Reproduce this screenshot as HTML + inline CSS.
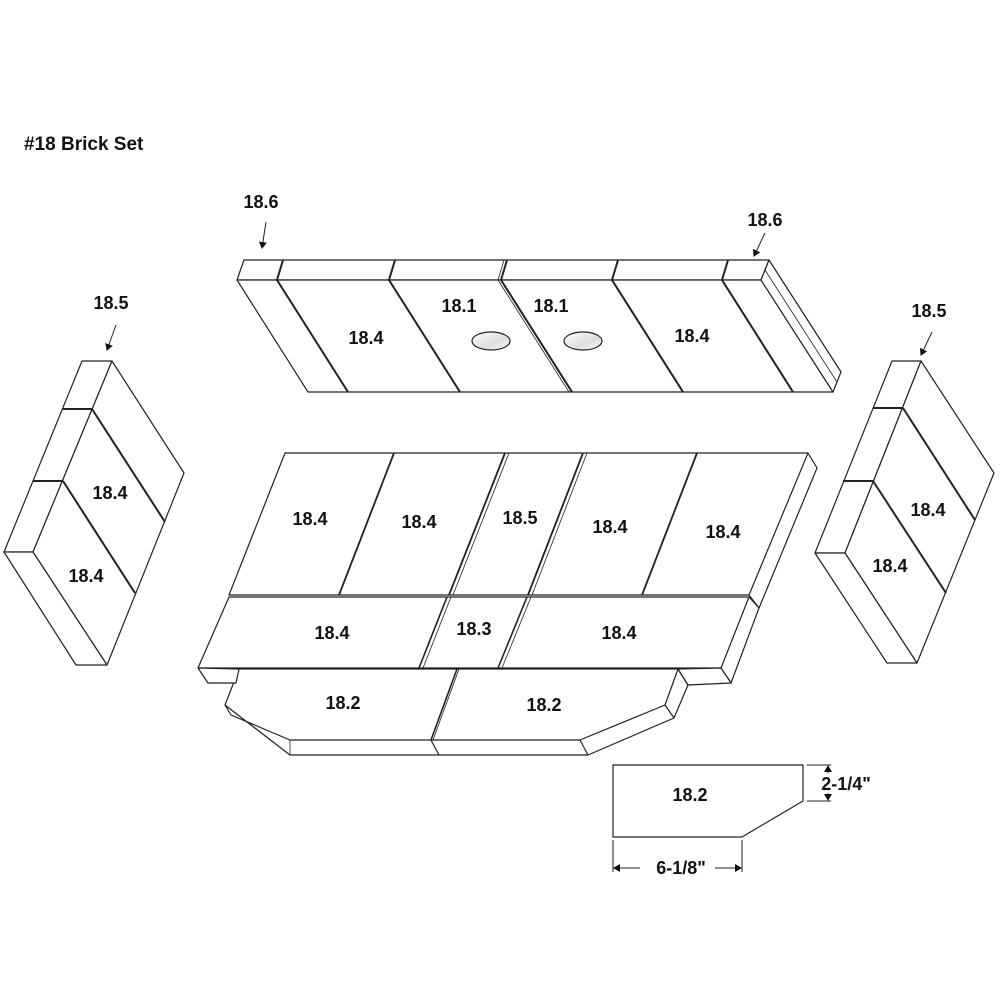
<!DOCTYPE html>
<html><head><meta charset="utf-8"><style>
html,body{margin:0;padding:0;background:#fff;}
svg{display:block;}
text{font-family:"Liberation Sans",Arial,sans-serif;font-weight:bold;fill:#111;}
</style></head><body>
<svg width="1000" height="1000" viewBox="0 0 1000 1000" xmlns="http://www.w3.org/2000/svg">
<defs>
<marker id="ah" markerWidth="8" markerHeight="8" refX="6" refY="4" orient="auto" markerUnits="userSpaceOnUse">
<path d="M0,0 L7,4 L0,8 Z" fill="#111"/></marker>
<linearGradient id="eg" x1="0" y1="0" x2="1" y2="1"><stop offset="0" stop-color="#fff"/><stop offset="0.6" stop-color="#ddd"/><stop offset="1" stop-color="#fff"/></linearGradient>
</defs>
<text x="24" y="150" font-size="19">#18 Brick Set</text>

<g fill="none" stroke="#222" stroke-width="1.2" stroke-linejoin="round">
<!-- top panel -->
<polygon points="244,260 769,260 761,280 237,280" fill="#fff"/>
<polygon points="237,280 761,280 833,392 308,392" fill="#fff"/>
<polygon points="769,260 841,372 833,392 761,280" fill="#fff"/>
<line x1="765" y1="270" x2="837" y2="382" stroke-width="0.8"/>
<g stroke-width="2">
<line x1="283" y1="260" x2="277" y2="280"/><line x1="277" y1="280" x2="348" y2="392"/>
<line x1="395" y1="260" x2="389" y2="280"/><line x1="389" y1="280" x2="460" y2="392"/>
<line x1="507" y1="260" x2="501" y2="280"/><line x1="501" y1="280" x2="572" y2="392"/>
<line x1="618" y1="260" x2="612" y2="280"/><line x1="612" y1="280" x2="683" y2="392"/>
<line x1="728" y1="260" x2="722" y2="280"/><line x1="722" y1="280" x2="793" y2="392"/>
</g>
<line x1="504" y1="260" x2="498" y2="280" stroke-width="0.8"/><line x1="498" y1="280" x2="569" y2="392" stroke-width="0.8"/>
<ellipse cx="491" cy="341" rx="19" ry="9" fill="url(#eg)"/>
<ellipse cx="583" cy="341" rx="19" ry="9" fill="url(#eg)"/>

<!-- left panel -->
<polygon points="82,361 112,361 33,552 4,552" fill="#fff"/>
<polygon points="112,361 184,473 107,665 33,552" fill="#fff"/>
<polygon points="4,552 33,552 107,665 76,665" fill="#fff"/>
<g stroke-width="2"><line x1="63" y1="409" x2="92" y2="409"/><line x1="92" y1="409" x2="165" y2="522"/>
<line x1="33" y1="481" x2="63" y2="481"/><line x1="63" y1="481" x2="135" y2="593"/></g>

<!-- right panel -->
<polygon points="892,361 921,361 845,553 815,553" fill="#fff"/>
<polygon points="921,361 994,473 917,663 845,553" fill="#fff"/>
<polygon points="815,553 845,553 917,663 887,663" fill="#fff"/>
<g stroke-width="2"><line x1="873" y1="408" x2="903" y2="408"/><line x1="903" y1="408" x2="975" y2="520"/>
<line x1="843" y1="481" x2="873" y2="481"/><line x1="873" y1="481" x2="946" y2="593"/></g>

<!-- bottom assembly: 18.2 row -->
<polygon points="239,669 678,669 688,685 674,718 588,755 290,755 225,705" fill="#fff"/>
<polyline points="678,669 665,705 674,718"/>
<line x1="665" y1="705" x2="580" y2="740"/>
<polyline points="225,705 231,715 290,740 580,740"/>
<line x1="290" y1="740" x2="290" y2="755" stroke-width="0.8"/>
<line x1="457" y1="669" x2="431" y2="740" stroke-width="1.6"/><line x1="459" y1="669" x2="433" y2="740" stroke-width="0.8"/>
<line x1="431" y1="740" x2="439" y2="755"/>
<line x1="580" y1="740" x2="588" y2="755"/>
<!-- row 2 -->
<polygon points="229,597 749,597 759,608 731,683 721,668 198,668" fill="#fff"/>
<polygon points="198,668 239,669 236,683 208,683" fill="#fff"/>
<polygon points="678,669 721,668 731,683 688,685" fill="#fff"/>
<line x1="749" y1="597" x2="721" y2="668"/>
<line x1="447" y1="597" x2="419" y2="668" stroke-width="1.6"/><line x1="451" y1="597" x2="423" y2="668" stroke-width="0.8"/>
<line x1="527" y1="597" x2="498" y2="668" stroke-width="1.6"/><line x1="531" y1="597" x2="502" y2="668" stroke-width="0.8"/>
<!-- row 1 -->
<polygon points="285,453 808,453 817,468 759,608 749,595 229,595" fill="#fff"/>
<line x1="808" y1="453" x2="749" y2="595"/>
<line x1="229" y1="597" x2="749" y2="597" stroke-width="0.8"/>
<g stroke-width="1.8">
<line x1="394" y1="453" x2="339" y2="595"/>
<line x1="505" y1="453" x2="449" y2="595"/><line x1="509" y1="453" x2="453" y2="595" stroke-width="0.8"/>
<line x1="583" y1="453" x2="528" y2="595"/><line x1="587" y1="453" x2="532" y2="595" stroke-width="0.8"/>
<line x1="697" y1="453" x2="642" y2="595"/>
</g>

<!-- dimension piece -->
<polygon points="613,765 803,765 803,801 742,837 613,837" fill="#fff"/>
<g stroke-width="1">
<line x1="807" y1="765" x2="831" y2="765"/><line x1="807" y1="801" x2="831" y2="801"/>
<line x1="828" y1="773" x2="828" y2="766" marker-end="url(#ah)"/>
<line x1="828" y1="793" x2="828" y2="800" marker-end="url(#ah)"/>
<line x1="613" y1="840" x2="613" y2="872"/><line x1="742" y1="840" x2="742" y2="872"/>
<line x1="640" y1="868" x2="614" y2="868" marker-end="url(#ah)"/>
<line x1="715" y1="868" x2="741" y2="868" marker-end="url(#ah)"/>
</g>

<!-- arrows -->
<g stroke-width="1">
<line x1="266" y1="222" x2="262" y2="248" marker-end="url(#ah)"/>
<line x1="765" y1="233" x2="754" y2="256" marker-end="url(#ah)"/>
<line x1="116" y1="325" x2="107" y2="350" marker-end="url(#ah)"/>
<line x1="932" y1="332" x2="921" y2="355" marker-end="url(#ah)"/>
</g>
</g>

<g font-size="18" text-anchor="middle">
<text x="261" y="208">18.6</text>
<text x="765" y="226">18.6</text>
<text x="111" y="309">18.5</text>
<text x="929" y="317">18.5</text>
<text x="366" y="344">18.4</text>
<text x="459" y="312">18.1</text>
<text x="551" y="312">18.1</text>
<text x="692" y="342">18.4</text>
<text x="110" y="499">18.4</text>
<text x="86" y="582">18.4</text>
<text x="928" y="516">18.4</text>
<text x="890" y="572">18.4</text>
<text x="310" y="525">18.4</text>
<text x="419" y="528">18.4</text>
<text x="520" y="524">18.5</text>
<text x="610" y="533">18.4</text>
<text x="723" y="538">18.4</text>
<text x="332" y="639">18.4</text>
<text x="474" y="635">18.3</text>
<text x="619" y="639">18.4</text>
<text x="343" y="709">18.2</text>
<text x="544" y="711">18.2</text>
<text x="690" y="801">18.2</text>
<text x="846" y="790">2-1/4"</text>
<text x="681" y="874">6-1/8"</text>
</g>
</svg>
</body></html>
